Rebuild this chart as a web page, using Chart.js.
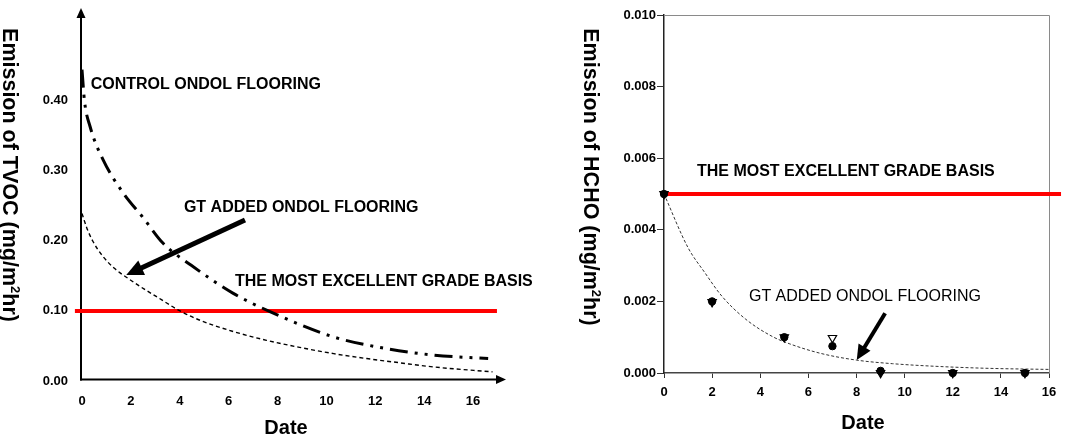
<!DOCTYPE html>
<html><head><meta charset="utf-8">
<script src="https://cdn.jsdelivr.net/npm/chart.js@4.4.1/dist/chart.umd.min.js"></script>
<style>
html,body{margin:0;padding:0;background:#fff;width:1075px;height:438px;overflow:hidden}
.box{position:absolute;top:0;height:438px}
#b1{left:0;width:540px}
#b2{left:540px;width:535px}
</style></head><body>
<div class="box" id="b1"><canvas id="c1"></canvas></div>
<div class="box" id="b2"><canvas id="c2"></canvas></div>
<script>
// ---------- TVOC (left) ----------
const tvocXTicks = [0, 2, 4, 6, 8, 10, 12, 14, 16];
const tvocYTicks = [0, 0.1, 0.2, 0.3, 0.4];
const controlDates = [0, 0.1, 0.33, 0.87, 1.69, 2.5, 3.33, 4.47, 6.19, 7.69, 10.28, 12.33, 14.37, 16.62];
const controlTVOC  = [0.444, 0.40, 0.363, 0.315, 0.268, 0.233, 0.196, 0.165, 0.125, 0.099, 0.063, 0.047, 0.037, 0.032];
const gtDates = [0, 0.2, 0.45, 0.85, 1.35, 1.9, 2.55, 3.25, 3.95, 4.8, 6.15, 7.55, 8.9, 10.3, 11.65, 13.0, 14.4, 16.8];
const gtTVOC  = [0.239, 0.218, 0.199, 0.178, 0.160, 0.146, 0.131, 0.116, 0.101, 0.087, 0.071, 0.058, 0.048, 0.039, 0.032, 0.026, 0.020, 0.013];
const tvocBasisDates = [-0.29, 16.98];
const tvocBasis = [0.1, 0.1];

// ---------- HCHO (right) ----------
const hchoXTicks = [0, 2, 4, 6, 8, 10, 12, 14, 16];
const hchoYTicks = [0, 0.002, 0.004, 0.006, 0.008, 0.010];
const hchoDates = [0, 2, 5, 7, 9, 12, 15];
const hchoCircle = [0.005, 0.002, 0.001, 0.00075, 0.00006, 0, 0];
const hchoTriangle = [0.005, 0.00198, 0.001, 0.00098, 0, 0, 0];
const hchoFitDates = [0, 1, 1.7, 2.4, 3.4, 4.5, 5.2, 6.5, 8, 9.5, 11.5, 13.5, 16];
const hchoFit = [0.005, 0.0035, 0.0028, 0.00215, 0.0015, 0.00102, 0.00082, 0.00055, 0.00036, 0.00026, 0.00018, 0.00013, 0.0001];
const hchoBasisDates = [-0.1, 16.5];
const hchoBasis = [0.005, 0.005];

// ---------- annotation text ----------
const tvocNotes = [
  {text: 'CONTROL ONDOL FLOORING', x: 0.356, y: 0.4223, weight: 'bold'},
  {text: 'GT ADDED ONDOL FLOORING', x: 4.17, y: 0.2468, weight: 'bold'},
  {text: 'THE MOST EXCELLENT GRADE BASIS', x: 6.26, y: 0.1417, weight: 'bold'}
];
const tvocArrow = {x1: 6.67, y1: 0.2297, x2: 1.81, y2: 0.1512};
const hchoNotes = [
  {text: 'THE MOST EXCELLENT GRADE BASIS', x: 1.37, y: 0.005623, weight: 'bold'},
  {text: 'GT ADDED ONDOL FLOORING', x: 3.53, y: 0.002131, weight: 'normal'}
];
const hchoArrow = {x1: 9.19, y1: 0.001668, x2: 8.01, y2: 0.000363};

const F = '"Liberation Sans", Arial, Helvetica, sans-serif';
const pts = (xs, ys) => xs.map((x, i) => ({x: x, y: ys[i]}));
const noPad = s => { s.paddingTop = 0; s.paddingBottom = 0; s.paddingLeft = 0; s.paddingRight = 0; };

function arrow(ctx, x1, y1, x2, y2, w, headLen, headW) {
  const a = Math.atan2(y2 - y1, x2 - x1);
  const bx = x2 - headLen * Math.cos(a), by = y2 - headLen * Math.sin(a);
  ctx.save();
  ctx.strokeStyle = '#000'; ctx.fillStyle = '#000'; ctx.lineWidth = w; ctx.lineCap = 'butt';
  ctx.beginPath(); ctx.moveTo(x1, y1); ctx.lineTo(bx + Math.cos(a), by + Math.sin(a)); ctx.stroke();
  ctx.beginPath(); ctx.moveTo(x2, y2);
  ctx.lineTo(bx + headW * Math.sin(a), by - headW * Math.cos(a));
  ctx.lineTo(bx - headW * Math.sin(a), by + headW * Math.cos(a));
  ctx.closePath(); ctx.fill();
  ctx.restore();
}
function vTitle(ctx, text, sup, rest, x, cy, size) {
  ctx.save();
  ctx.translate(x, cy);
  ctx.rotate(Math.PI / 2);
  ctx.fillStyle = '#000';
  ctx.textBaseline = 'alphabetic';
  const big = 'bold ' + size + 'px ' + F, small = 'bold ' + Math.round(size * 0.6) + 'px ' + F;
  ctx.font = big;
  const w1 = ctx.measureText(text).width, w3 = ctx.measureText(rest).width;
  ctx.font = small;
  const w2 = ctx.measureText(sup).width;
  let px = -(w1 + w2 + w3) / 2;
  ctx.font = big; ctx.fillText(text, px, 0); px += w1;
  ctx.font = small; ctx.fillText(sup, px, -size * 0.38); px += w2;
  ctx.font = big; ctx.fillText(rest, px, 0);
  ctx.restore();
}
function notes(ctx, list, xs, ys) {
  ctx.save();
  ctx.fillStyle = '#000';
  ctx.textAlign = 'left';
  ctx.textBaseline = 'middle';
  list.forEach(n => {
    ctx.font = n.weight + ' 16px ' + F;
    ctx.fillText(n.text, xs.getPixelForValue(n.x), ys.getPixelForValue(n.y));
  });
  ctx.restore();
}
function xTitle(ctx, text, cx, cy) {
  ctx.save();
  ctx.fillStyle = '#000'; ctx.font = 'bold 20px ' + F; ctx.textAlign = 'center'; ctx.textBaseline = 'middle';
  ctx.fillText(text, cx, cy);
  ctx.restore();
}

const leftPlugin = {
  id: 'leftDeco',
  beforeDatasetsDraw(chart) {
    const ctx = chart.ctx, xs = chart.scales.x, ys = chart.scales.y, a = chart.chartArea;
    const ax = xs.getPixelForValue(0) - 1, ay = ys.getPixelForValue(0) - 1.5;
    ctx.save();
    ctx.strokeStyle = '#000'; ctx.fillStyle = '#000'; ctx.lineWidth = 2;
    ctx.beginPath(); ctx.moveTo(ax, ay + 1); ctx.lineTo(ax, a.top + 8); ctx.stroke();
    ctx.beginPath(); ctx.moveTo(ax, a.top); ctx.lineTo(ax - 4.5, a.top + 10); ctx.lineTo(ax + 4.5, a.top + 10); ctx.closePath(); ctx.fill();
    ctx.beginPath(); ctx.moveTo(ax - 1, ay); ctx.lineTo(a.right - 8, ay); ctx.stroke();
    ctx.beginPath(); ctx.moveTo(a.right, ay); ctx.lineTo(a.right - 10, ay - 4.5); ctx.lineTo(a.right - 10, ay + 4.5); ctx.closePath(); ctx.fill();
    ctx.restore();
  },
  afterDatasetsDraw(chart) {
    const ctx = chart.ctx, xs = chart.scales.x, ys = chart.scales.y;
    notes(ctx, tvocNotes, xs, ys);
    arrow(ctx, xs.getPixelForValue(tvocArrow.x1), ys.getPixelForValue(tvocArrow.y1),
          xs.getPixelForValue(tvocArrow.x2), ys.getPixelForValue(tvocArrow.y2), 5, 17, 8);
    vTitle(ctx, 'Emission of TVOC (mg/m', '2', 'hr)', 2.5, 175, 21.5);
    xTitle(ctx, 'Date', 286, 428);
  }
};

const rightPlugin = {
  id: 'rightDeco',
  beforeDatasetsDraw(chart) {
    const ctx = chart.ctx, a = chart.chartArea;
    ctx.save();
    ctx.strokeStyle = '#8a8a8a'; ctx.lineWidth = 1;
    ctx.beginPath(); ctx.moveTo(a.left, a.top + 0.5); ctx.lineTo(a.right + 0.5, a.top + 0.5); ctx.lineTo(a.right + 0.5, a.bottom); ctx.stroke();
    ctx.restore();
  },
  afterDatasetsDraw(chart) {
    const ctx = chart.ctx, xs = chart.scales.x, ys = chart.scales.y;
    notes(ctx, hchoNotes, xs, ys);
    arrow(ctx, xs.getPixelForValue(hchoArrow.x1), ys.getPixelForValue(hchoArrow.y1),
          xs.getPixelForValue(hchoArrow.x2), ys.getPixelForValue(hchoArrow.y2), 4, 15, 7);
    vTitle(ctx, 'Emission of HCHO (mg/m', '2', 'hr)', 43.5, 177, 21.5);
    xTitle(ctx, 'Date', 323, 423);
  }
};

const tickFont = {family: F, size: 13, weight: 'bold'};

new Chart(document.getElementById('c1'), {
  type: 'scatter',
  data: {datasets: [
    {data: pts(tvocBasisDates, tvocBasis), showLine: true, borderColor: '#ff0000', borderWidth: 4, pointRadius: 0, clip: false, order: 3},
    {data: pts(controlDates, controlTVOC), showLine: true, borderColor: '#000', borderWidth: 3, borderDash: [18, 7, 3, 7, 3, 7],
     pointRadius: 0, cubicInterpolationMode: 'monotone', clip: false, order: 2},
    {data: pts(gtDates, gtTVOC), showLine: true, borderColor: '#000', borderWidth: 1.4, borderDash: [4, 3],
     pointRadius: 0, cubicInterpolationMode: 'monotone', clip: false, order: 1}
  ]},
  options: {
    responsive: true, maintainAspectRatio: false, animation: false, devicePixelRatio: 1,
    layout: {padding: {left: 0, right: 34, top: 8, bottom: 0}},
    plugins: {legend: {display: false}, tooltip: {enabled: false}},
    scales: {
      x: {type: 'linear', min: 0, max: 17.35,
          grid: {display: false, drawTicks: false}, border: {display: false},
          afterBuildTicks: s => { s.ticks = tvocXTicks.map(v => ({value: v})); },
          afterFit: s => { s.height = 57; noPad(s); },
          ticks: {font: tickFont, color: '#000', padding: 13, maxRotation: 0, autoSkip: false, callback: v => String(v)}},
      y: {type: 'linear', min: 0, max: 0.532,
          grid: {display: false, drawTicks: false}, border: {display: false},
          afterBuildTicks: s => { s.ticks = tvocYTicks.map(v => ({value: v})); },
          afterFit: s => { s.width = 82; noPad(s); },
          ticks: {font: tickFont, color: '#000', padding: 14, autoSkip: false, callback: v => Number(v).toFixed(2)}}
    }
  },
  plugins: [leftPlugin]
});

new Chart(document.getElementById('c2'), {
  type: 'scatter',
  data: {datasets: [
    {data: pts(hchoBasisDates, hchoBasis), showLine: true, borderColor: '#ff0000', borderWidth: 4, pointRadius: 0, clip: false, order: 4},
    {data: pts(hchoFitDates, hchoFit), showLine: true, borderColor: '#333', borderWidth: 1, borderDash: [3, 2],
     pointRadius: 0, cubicInterpolationMode: 'monotone', order: 3},
    {data: pts(hchoDates, hchoTriangle), pointStyle: 'triangle', rotation: 180, pointRadius: 4.8,
     backgroundColor: ['#000', '#000', '#000', '#fff', '#000', '#000', '#000'], borderColor: '#000', borderWidth: 1.2, clip: false, order: 2},
    {data: pts(hchoDates, hchoCircle), pointStyle: 'circle', pointRadius: 3.7,
     backgroundColor: '#000', borderColor: '#000', borderWidth: 1, clip: false, order: 1}
  ]},
  options: {
    responsive: true, maintainAspectRatio: false, animation: false, devicePixelRatio: 1,
    layout: {padding: {left: 0, right: 26, top: 15, bottom: 0}},
    plugins: {legend: {display: false}, tooltip: {enabled: false}},
    scales: {
      x: {type: 'linear', min: 0, max: 16,
          grid: {display: true, drawOnChartArea: false, drawTicks: true, tickLength: 5, color: '#333', lineWidth: 1},
          border: {display: true, color: '#444', width: 1.5},
          afterBuildTicks: s => { s.ticks = hchoXTicks.map(v => ({value: v})); },
          afterFit: s => { s.height = 65; noPad(s); },
          ticks: {font: tickFont, color: '#000', padding: 7, maxRotation: 0, autoSkip: false, callback: v => String(v)}},
      y: {type: 'linear', min: 0, max: 0.010,
          grid: {display: true, drawOnChartArea: false, drawTicks: true, tickLength: 7, color: '#333', lineWidth: 1},
          border: {display: true, color: '#222', width: 1.5},
          afterBuildTicks: s => { s.ticks = hchoYTicks.map(v => ({value: v})); },
          afterFit: s => { s.width = 124; noPad(s); },
          ticks: {font: tickFont, color: '#000', padding: 1, autoSkip: false, callback: v => Number(v).toFixed(3)}}
    }
  },
  plugins: [rightPlugin]
});
</script>
</body></html>
